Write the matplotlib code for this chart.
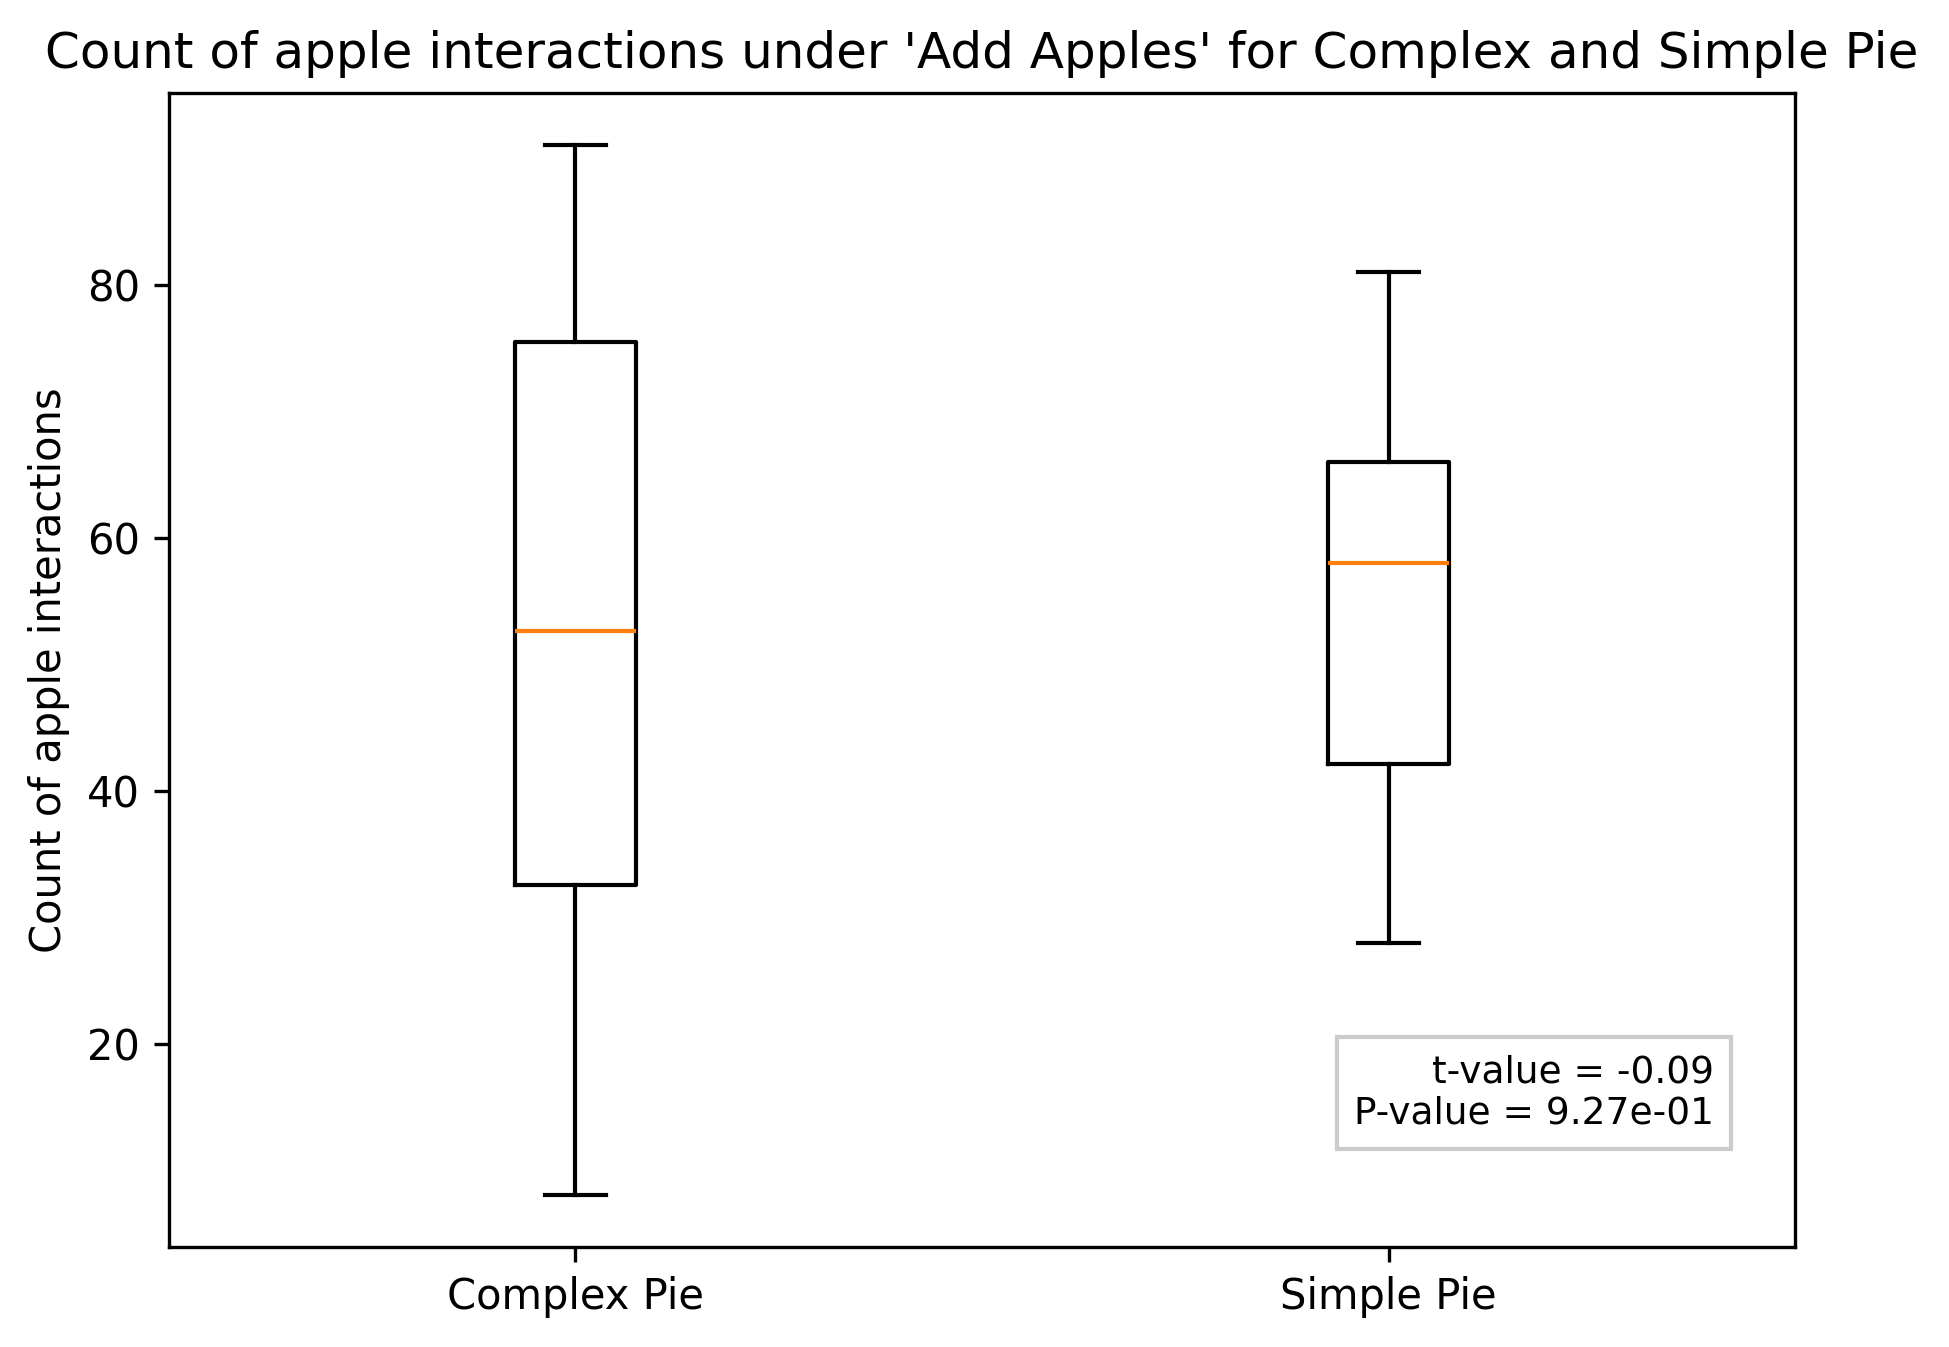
import matplotlib
matplotlib.use('Agg')
import matplotlib.pyplot as plt

groups = ['Complex Pie', 'Simple Pie']
whislo = [8.1, 28.0]
q1 = [32.6, 42.1]
med = [52.6, 58.0]
q3 = [75.5, 66.0]
whishi = [91.0, 81.0]
t_value = -0.09
p_value = 0.927

stats = []
for i in range(len(groups)):
    stats.append({'label': groups[i], 'whislo': whislo[i], 'q1': q1[i],
                  'med': med[i], 'q3': q3[i], 'whishi': whishi[i], 'fliers': []})

fig, ax = plt.subplots(figsize=(1949/300, 1347/300), dpi=300)
fig.subplots_adjust(left=0.0867, right=0.921, top=0.931, bottom=0.0742)
ax.bxp(stats)
ax.set_title("Count of apple interactions under 'Add Apples' for Complex and Simple Pie")
ax.set_ylabel('Count of apple interactions')

ax.text(0.95, 0.1, 't-value = {:.2f}\nP-value = {:.2e}'.format(t_value, p_value),
        transform=ax.transAxes, ha='right', va='bottom', fontsize=9,
        bbox=dict(boxstyle='square,pad=0.45', facecolor='white', edgecolor='0.8'))

plt.savefig('out.png', dpi=300)
